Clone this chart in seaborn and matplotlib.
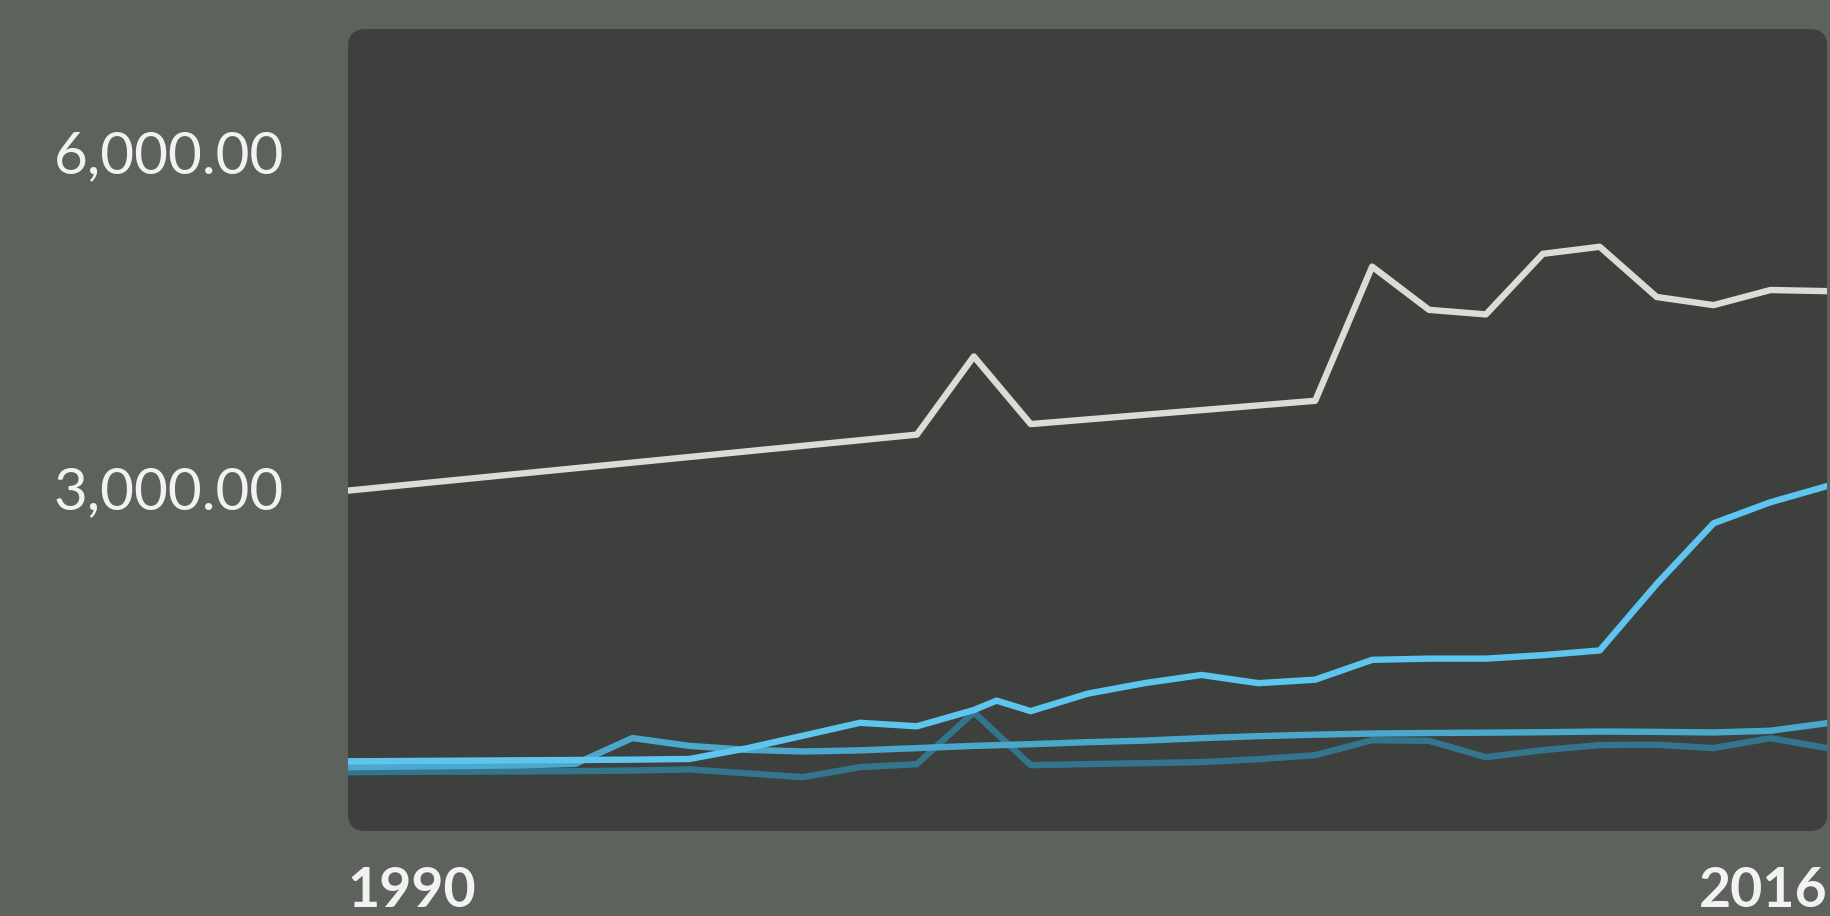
import pandas as pd
import matplotlib.pyplot as plt
import seaborn as sns
from matplotlib.patches import FancyBboxPatch

# --- values ---
white_years = [1990, 2000, 2001, 2002, 2007, 2008, 2009, 2010, 2011, 2012, 2013, 2014, 2015, 2016]
white_vals = [2969, 3469, 4167, 3563, 3771, 4969, 4583, 4542, 5083, 5146, 4698, 4625, 4760, 4750]

bright_years = [1990, 1991, 1992, 1993, 1994, 1995, 1996, 1997, 1998, 1999, 2000, 2001, 2001.4,
                2002, 2003, 2004, 2005, 2006, 2007, 2008, 2009, 2010, 2011, 2012, 2013, 2014, 2015, 2016]
bright_vals = [552, 555, 558, 561, 564, 567, 573, 667, 781, 896, 865, 1010, 1094,
               1000, 1156, 1250, 1323, 1250, 1281, 1458, 1469, 1469, 1500, 1542, 2135, 2677, 2865, 3010]

years = list(range(1990, 2017))
medium_vals = [500, 505, 510, 515, 530, 760, 690, 655, 640, 650, 670, 690, 705, 723,
               737, 759, 777, 790, 800, 805, 808, 812, 818, 815, 810, 825, 893]
dark_vals = [455, 458, 460, 462, 465, 470, 480, 445, 411, 500, 527, 990, 518, 527,
             536, 545, 571, 607, 741, 735, 589, 652, 697, 700, 670, 759, 670]

series_order = ['dark', 'medium', 'bright', 'white']
palette = {'dark': '#327f9b', 'medium': '#4ba8cc', 'bright': '#5ec5ee', 'white': '#dcdcd6'}

frames = [
    pd.DataFrame({'Year': years, 'Value': dark_vals, 'Series': 'dark'}),
    pd.DataFrame({'Year': years, 'Value': medium_vals, 'Series': 'medium'}),
    pd.DataFrame({'Year': bright_years, 'Value': bright_vals, 'Series': 'bright'}),
    pd.DataFrame({'Year': white_years, 'Value': white_vals, 'Series': 'white'}),
]
df = pd.concat(frames, ignore_index=True)

sns.set_theme(style='dark')
plt.rcParams['font.family'] = ['Lato', 'DejaVu Sans']

fig = plt.figure(figsize=(18.31, 9.16), dpi=100, facecolor='#5d625d')
ax = fig.add_axes([0.19, 0.0928, 0.808, 0.8755])
ax.set_facecolor('none')

# rounded dark panel behind the lines
panel = FancyBboxPatch((0, 0), 1, 1, boxstyle='round,pad=0,rounding_size=0.012',
                       mutation_aspect=1.84, transform=ax.transAxes,
                       facecolor='#3d403c', edgecolor='none', zorder=0)
ax.add_patch(panel)

sns.lineplot(data=df, x='Year', y='Value', hue='Series', hue_order=series_order,
             palette=palette, estimator=None, linewidth=4.6, legend=False, ax=ax)
for line in ax.lines:
    line.set_clip_path(panel)
    line.set_solid_joinstyle('round')
ax.lines[0].set_alpha(0.85)

ax.set_xlim(1990, 2016)
ax.set_ylim(-70, 7090)
ax.set_yticks([3000, 6000])
ax.set_yticklabels([f'{v:,.2f}' for v in [3000, 6000]], fontsize=42, color='#f2f2f2')
ax.set_xticks([1990, 2016])
ax.set_xticklabels(['1990', '2016'], fontsize=40, fontweight='bold', color='#f2f2f2')
xl = ax.get_xticklabels()
xl[0].set_ha('left')
xl[1].set_ha('right')
ax.tick_params(axis='y', length=0, pad=46)
ax.tick_params(axis='x', length=0, pad=25)
ax.set_xlabel('')
ax.set_ylabel('')
ax.grid(False)
for s in ax.spines.values():
    s.set_visible(False)

fig.savefig('out.png', dpi=100, facecolor=fig.get_facecolor())
